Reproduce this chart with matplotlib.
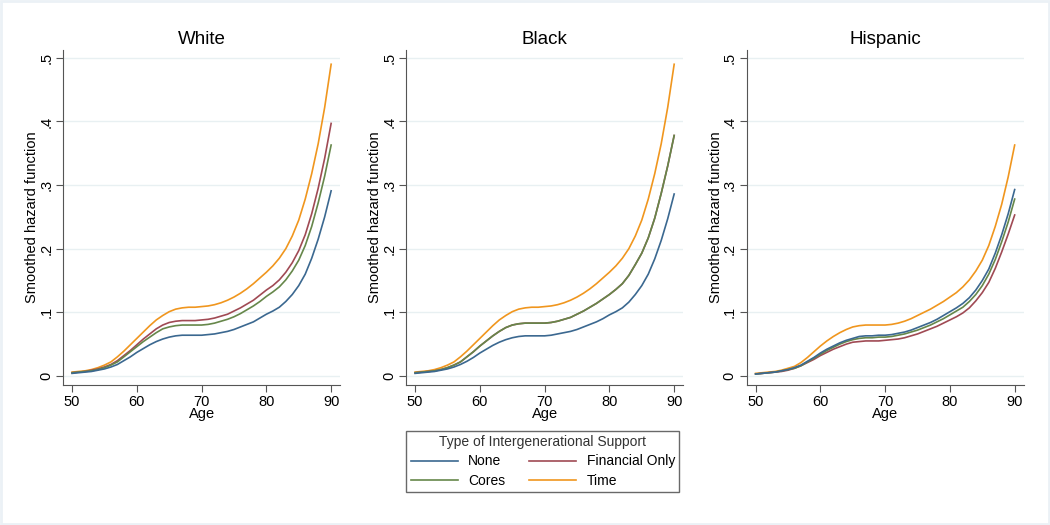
import matplotlib.pyplot as plt
from matplotlib.lines import Line2D
from matplotlib.patches import Rectangle

plt.rcParams['font.family'] = ['Liberation Sans', 'DejaVu Sans']

ages = list(range(50, 91))

white_none = [.004, .005, .006, .007, .009, .011, .014, .018, .024, .030, .037, .043, .049, .054, .058, .061, .063, .064, .064, .064,
              .064, .065, .066, .068, .070, .073, .077, .081, .085, .091, .097, .102, .108, .117, .128, .142, .160, .185, .215, .250, .291]
white_fin = [.005, .006, .007, .009, .011, .014, .018, .024, .032, .040, .049, .058, .066, .074, .080, .084, .086, .087, .087, .087,
             .088, .089, .091, .094, .097, .102, .107, .113, .119, .127, .135, .142, .151, .163, .178, .197, .222, .255, .295, .342, .397]
white_cores = [.005, .006, .007, .008, .010, .013, .017, .022, .030, .038, .046, .054, .061, .068, .074, .077, .079, .080, .080, .080,
               .080, .081, .083, .086, .089, .093, .098, .104, .110, .117, .125, .132, .140, .151, .165, .182, .205, .235, .272, .314, .363]
white_time = [.006, .007, .008, .010, .013, .017, .022, .030, .039, .049, .059, .069, .079, .088, .095, .101, .105, .107, .108, .108,
              .109, .110, .112, .115, .119, .124, .130, .137, .145, .154, .163, .173, .185, .200, .220, .245, .278, .318, .365, .422, .490]

black_none = [.004, .005, .006, .007, .009, .011, .014, .018, .023, .029, .036, .042, .048, .053, .057, .060, .062, .063, .063, .063,
              .063, .064, .066, .068, .070, .073, .077, .081, .085, .090, .096, .101, .107, .116, .128, .142, .160, .184, .213, .247, .286]
black_fin = [.005, .006, .007, .008, .010, .013, .017, .022, .030, .038, .047, .055, .063, .070, .076, .080, .082, .083, .083, .083,
             .083, .084, .086, .089, .092, .097, .102, .108, .114, .121, .128, .136, .145, .158, .175, .193, .217, .248, .287, .330, .378]
black_cores = [.005, .006, .007, .008, .010, .013, .017, .022, .030, .038, .047, .055, .063, .070, .076, .080, .082, .083, .083, .083,
               .083, .084, .086, .089, .092, .097, .102, .108, .114, .121, .128, .136, .145, .158, .175, .193, .217, .248, .287, .330, .378]
black_time = [.006, .007, .008, .010, .013, .017, .022, .030, .039, .049, .059, .069, .079, .088, .095, .101, .105, .107, .108, .108,
              .109, .110, .112, .115, .119, .124, .130, .137, .145, .154, .163, .173, .185, .200, .220, .245, .278, .318, .365, .422, .490]

hisp_none = [.003, .004, .005, .006, .008, .010, .013, .017, .023, .029, .036, .042, .047, .052, .056, .059, .062, .063, .063, .064,
             .064, .065, .067, .069, .072, .076, .080, .084, .089, .095, .101, .107, .114, .123, .135, .150, .168, .193, .222, .255, .293]
hisp_fin = [.003, .004, .005, .006, .007, .009, .012, .016, .021, .026, .032, .037, .042, .046, .050, .053, .054, .055, .055, .055,
            .056, .057, .058, .060, .063, .066, .070, .074, .078, .083, .088, .093, .099, .107, .118, .131, .147, .169, .195, .223, .253]
hisp_cores = [.003, .004, .005, .006, .008, .010, .012, .016, .022, .028, .034, .040, .045, .050, .054, .057, .059, .060, .060, .061,
              .061, .062, .064, .066, .069, .072, .076, .080, .085, .090, .096, .102, .108, .117, .128, .142, .160, .183, .211, .242, .278]
hisp_time = [.004, .005, .006, .007, .009, .012, .015, .021, .029, .038, .047, .055, .062, .068, .073, .077, .079, .080, .080, .080,
             .080, .081, .083, .086, .090, .095, .100, .105, .111, .117, .124, .131, .140, .151, .165, .182, .205, .235, .270, .313, .363]

panels = ['White', 'Black', 'Hispanic']
series = [
    [white_none, white_fin, white_cores, white_time],
    [black_none, black_fin, black_cores, black_time],
    [hisp_none, hisp_fin, hisp_cores, hisp_time],
]
labels = ['None', 'Financial Only', 'Cores', 'Time']
colors = ['#3b6890', '#a04a54', '#66874a', '#f0961e']
draw_order = [3, 1, 2, 0]

yticks = [0, .1, .2, .3, .4, .5]
ytick_labels = ['0', '.1', '.2', '.3', '.4', '.5']
xticks = [50, 60, 70, 80, 90]

fig = plt.figure(figsize=(10.5, 5.25), dpi=100)
fig.patch.set_facecolor('white')
fig.patches.append(Rectangle((0.001, 0.002), 0.998, 0.996, transform=fig.transFigure,
                             fill=False, edgecolor='#ebf1f6', linewidth=2))

lefts = [0.060, 0.3867, 0.711]
for i, name in enumerate(panels):
    ax = fig.add_axes([lefts[i], 0.267, 0.264, 0.638])
    for k in draw_order:
        ax.plot(ages, series[i][k], color=colors[k], linewidth=1.2)
    ax.set_xlim(48.6, 91.4)
    ax.set_ylim(-0.014, 0.5126)
    ax.set_yticks(yticks)
    ax.set_yticklabels(ytick_labels, rotation=90, va='center')
    ax.set_xticks(xticks)
    ax.grid(axis='y', color='#e8f0f2', linewidth=1)
    ax.set_axisbelow(True)
    for s in ['top', 'right']:
        ax.spines[s].set_visible(False)
    for s in ['left', 'bottom']:
        ax.spines[s].set_color('#555555')
    ax.tick_params(colors='#555555', labelcolor='black', labelsize=10.5, length=5, pad=2)
    ax.set_title(name, fontsize=13.5, pad=4)
    ax.set_xlabel('Age', fontsize=10.5, labelpad=-1)
    ax.set_ylabel('Smoothed hazard function', fontsize=10.5, labelpad=0)

# legend fills column-first, so order the handles to get None/Financial on row one
leg_order = [0, 2, 1, 3]
handles = [Line2D([], [], color=colors[k], linewidth=1.2) for k in leg_order]
leg = fig.legend(handles, [labels[k] for k in leg_order], ncol=2, loc='center',
                 bbox_to_anchor=(0.517, 0.121),
                 title='Type of Intergenerational Support', fontsize=10, title_fontsize=10,
                 frameon=True, fancybox=False, edgecolor='#444444', handlelength=3.4,
                 columnspacing=1.7, handletextpad=0.75, labelspacing=0.4, borderpad=0.3)
leg.get_frame().set_linewidth(1)
leg.get_title().set_color('#333333')

fig.savefig('out.png', dpi=100)
